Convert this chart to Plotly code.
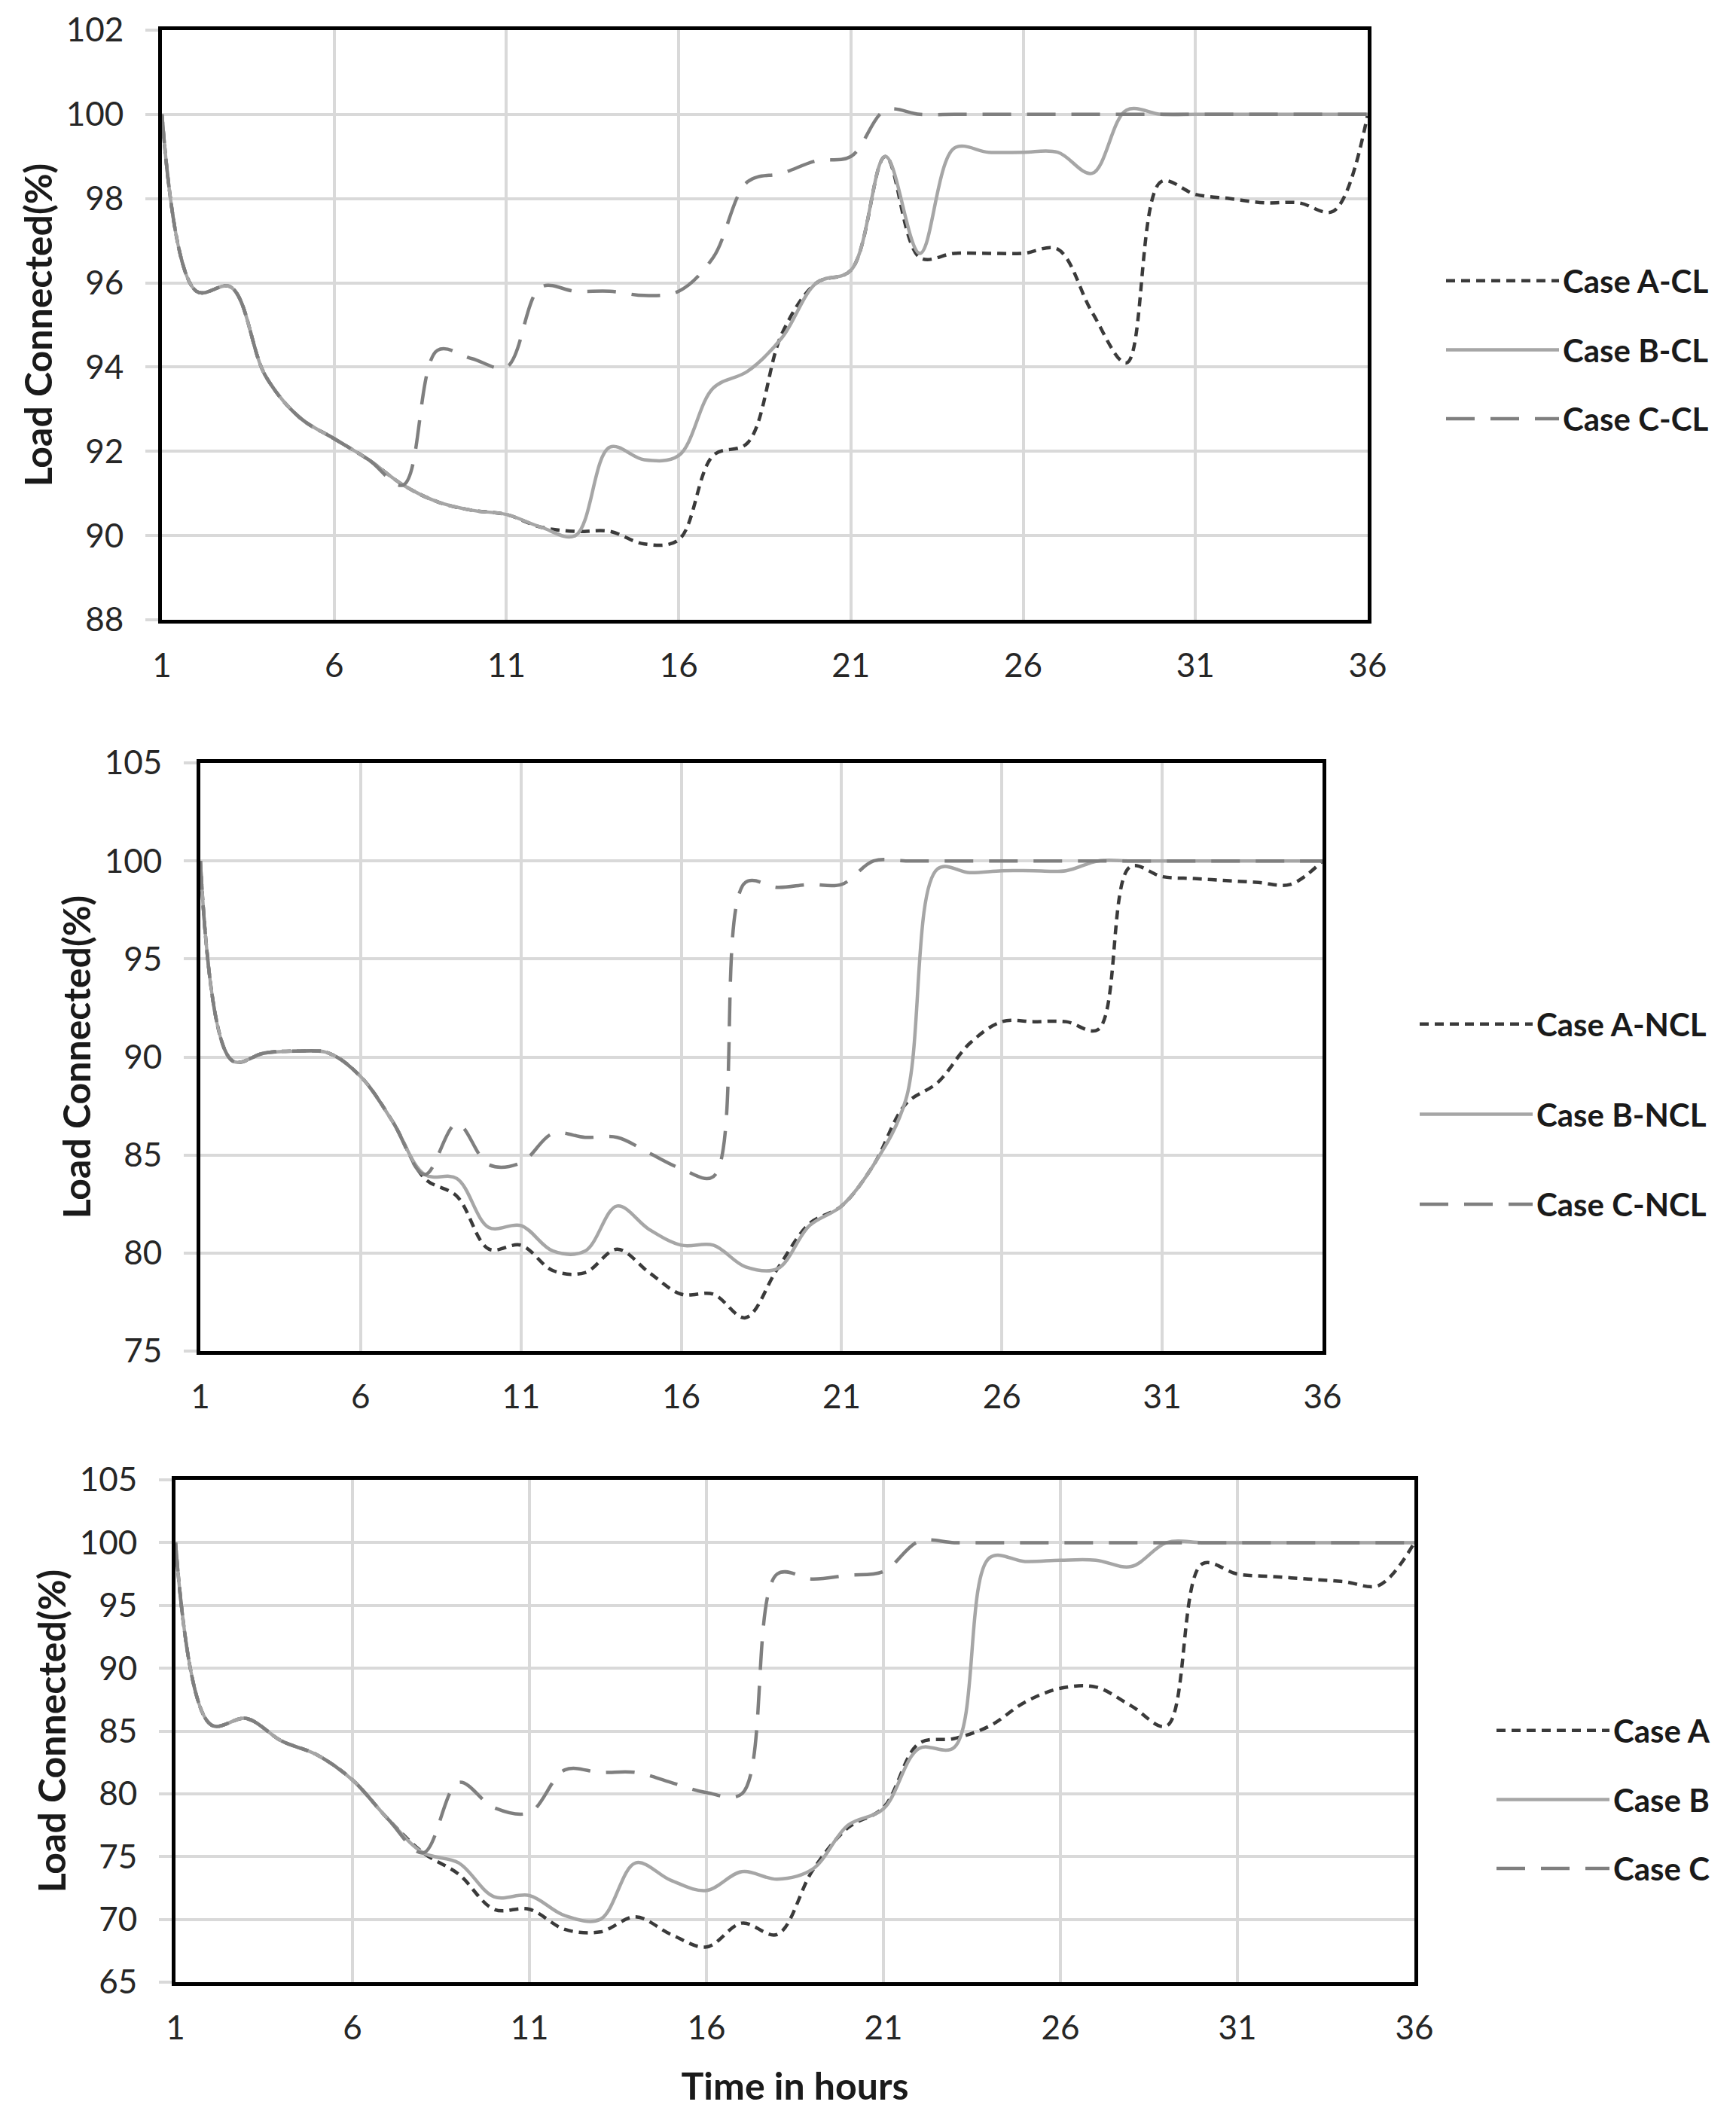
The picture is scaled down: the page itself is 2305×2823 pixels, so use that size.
import plotly.graph_objects as go

hours = list(range(1, 37))

# Top panel (CL)
case_a_cl = [100, 95.8, 95.9, 93.8, 92.8, 92.3, 91.8, 91.2, 90.8, 90.6, 90.5, 90.2, 90.1, 90.1, 89.8, 89.9,
             91.9, 92.2, 94.8, 96.0, 96.3, 99.0, 96.6, 96.7, 96.7, 96.7, 96.8, 95.3, 94.1, 98.4, 98.1, 98.0,
             97.9, 97.9, 97.7, 100]
case_b_cl = [100, 95.8, 95.9, 93.8, 92.8, 92.3, 91.8, 91.2, 90.8, 90.6, 90.5, 90.2, 90.0, 92.1, 91.8, 91.9,
             93.5, 93.9, 94.7, 96.0, 96.3, 99.0, 96.7, 99.2, 99.1, 99.1, 99.1, 98.6, 100.1, 100, 100, 100,
             100, 100, 100, 100]
case_c_cl = [100, 95.8, 95.9, 93.8, 92.8, 92.3, 91.8, 91.2, 94.4, 94.2, 94.0, 95.9, 95.8, 95.8, 95.7, 95.8,
             96.6, 98.4, 98.6, 98.9, 99.0, 100.1, 100, 100, 100, 100, 100, 100, 100, 100, 100, 100,
             100, 100, 100, 100]

# Middle panel (NCL)
case_a_ncl = [100, 89.8, 90.2, 90.3, 90.2, 89.0, 86.7, 83.8, 82.9, 80.2, 80.4, 79.1, 79.0, 80.2, 79.0, 77.9,
              77.9, 76.7, 79.2, 81.5, 82.4, 84.5, 87.6, 88.7, 90.7, 91.8, 91.8, 91.8, 91.4, 99.7, 99.2, 99.1,
              99.0, 98.9, 98.8, 100]
case_b_ncl = [100, 89.8, 90.2, 90.3, 90.2, 89.0, 86.7, 84.0, 83.8, 81.3, 81.4, 80.1, 80.1, 82.4, 81.2, 80.4,
              80.4, 79.3, 79.2, 81.4, 82.4, 84.5, 87.8, 99.6, 99.4, 99.5, 99.5, 99.5, 100, 100, 100, 100,
              100, 100, 100, 100]
case_c_ncl = [100, 89.8, 90.2, 90.3, 90.2, 89.0, 86.7, 84.0, 86.6, 84.5, 84.6, 86.1, 85.9, 85.9, 85.1, 84.3,
              83.9, 98.9, 98.65, 98.8, 98.8, 100, 100, 100, 100, 100, 100, 100, 100, 100, 100, 100,
              100, 100, 100, 100]

# Bottom panel
case_a = [100, 85.5, 86.0, 84.2, 83.1, 81.1, 78.0, 75.3, 73.6, 70.8, 70.8, 69.2, 69.0, 70.2, 68.8, 67.8,
          69.7, 68.8, 73.9, 77.3, 78.9, 84.0, 84.4, 85.4, 87.3, 88.4, 88.5, 87.0, 85.4, 98.3, 97.5, 97.3,
          97.1, 96.9, 96.6, 100]
case_b = [100, 85.5, 86.0, 84.2, 83.1, 81.1, 78.0, 75.3, 74.5, 71.8, 71.9, 70.3, 70.0, 74.5, 73.1, 72.3,
          73.8, 73.2, 74.0, 77.5, 78.8, 83.6, 83.7, 98.8, 98.5, 98.6, 98.6, 98.1, 100, 100, 100, 100,
          100, 100, 100, 100]
case_c = [100, 85.5, 86.0, 84.2, 83.1, 81.1, 78.0, 75.3, 80.9, 78.9, 78.5, 81.9, 81.7, 81.7, 80.9, 80.1,
          80.0, 97.5, 97.1, 97.4, 97.7, 100.1, 100, 100, 100, 100, 100, 100, 100, 100, 100, 100,
          100, 100, 100, 100]

panels = [
    (["Case A-CL", "Case B-CL", "Case C-CL"], [case_a_cl, case_b_cl, case_c_cl], [88, 102], 2),
    (["Case A-NCL", "Case B-NCL", "Case C-NCL"], [case_a_ncl, case_b_ncl, case_c_ncl], [75, 105], 5),
    (["Case A", "Case B", "Case C"], [case_a, case_b, case_c], [65, 105], 5),
]

W, H = 2305, 2823
# pixel boxes: (left, right, top, bottom)
boxes = [(215, 1816, 40, 823), (266, 1756, 1013, 1794), (233, 1878, 1965, 2632)]
legend_pos = [(1915, 339), (1880, 1326), (1982, 2264)]
legend_gap = [34, 62, 34]

styles = [
    dict(color="#3a3a3a", dash="12px,8px", width=4.5),
    dict(color="#a6a6a6", dash="solid", width=4.5),
    dict(color="#7f7f7f", dash="38px,21px", width=4.5),
]

FONT = "Lato"
fig = go.Figure()

for i, (names, series, yr, dt) in enumerate(panels):
    sfx = "" if i == 0 else str(i + 1)
    for j, (nm, vals) in enumerate(zip(names, series)):
        fig.add_trace(go.Scatter(
            x=hours, y=vals, name=nm, mode="lines",
            line=dict(shape="spline", smoothing=1.0, **styles[j]),
            xaxis="x" + sfx, yaxis="y" + sfx,
            legend="legend" + sfx, legendgroup=f"g{i}{j}",
        ))
    l, r, t, b = boxes[i]
    xa = dict(
        domain=[l / W, r / W], anchor="y" + sfx, range=[1, 36], tick0=1, dtick=5,
        showgrid=True, gridcolor="#d9d9d9", gridwidth=3.5,
        showline=True, linecolor="black", linewidth=5, mirror=True,
        ticks="", ticklabelstandoff=18, zeroline=False, automargin=False,
        tickfont=dict(family=FONT, size=44, color="#262626"),
    )
    if i == 2:
        xa["title"] = dict(text="<b>Time in hours</b>", font=dict(family=FONT, size=50, color="#1a1a1a"),
                           standoff=39)
    ya = dict(
        domain=[1 - b / H, 1 - t / H], anchor="x" + sfx, range=yr, dtick=dt,
        showgrid=True, gridcolor="#d9d9d9", gridwidth=3.5,
        showline=True, linecolor="black", linewidth=5, mirror=True,
        ticks="outside", ticklen=17, tickcolor="#d9d9d9", tickwidth=3.5,
        ticklabelstandoff=20, zeroline=False, automargin=False,
        tickfont=dict(family=FONT, size=44, color="#262626"),
        title=dict(text="<b>Load Connected(%)</b>", font=dict(family=FONT, size=50, color="#1a1a1a"),
                   standoff=4),
    )
    fig.update_layout({"xaxis" + sfx: xa, "yaxis" + sfx: ya})
    lx, ly = legend_pos[i]
    fig.update_layout({"legend" + sfx: dict(
        x=lx / W, y=1 - ly / H, xanchor="left", yanchor="top",
        bgcolor="rgba(0,0,0,0)", borderwidth=0, itemwidth=150,
        tracegroupgap=legend_gap[i],
        font=dict(family=FONT, size=42, color="#1a1a1a", weight="bold"),
    )})

fig.update_layout(
    width=W, height=H, margin=dict(l=0, r=0, t=0, b=0, autoexpand=False),
    paper_bgcolor="white", plot_bgcolor="white",
    font=dict(family=FONT, color="#262626"),
    showlegend=True,
)

fig.write_html("out.html", config={"displayModeBar": False},
               post_script="document.body.style.margin='0';document.body.style.overflow='hidden';")
